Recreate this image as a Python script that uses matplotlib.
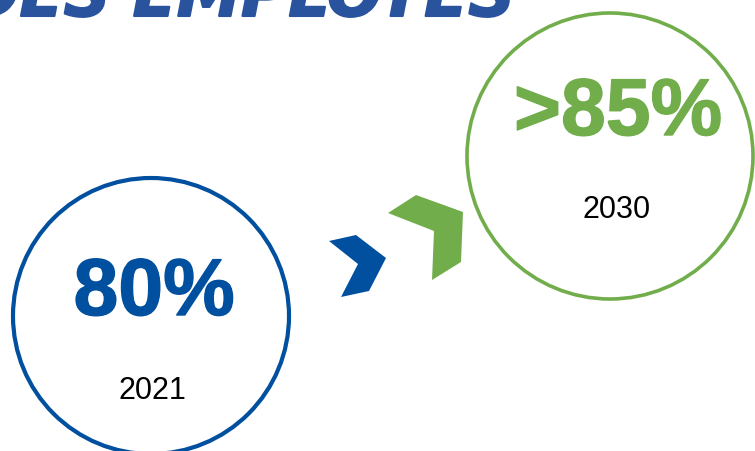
import matplotlib
matplotlib.use('Agg')
import matplotlib.pyplot as plt
import matplotlib.patheffects as pe
from matplotlib.patches import Circle, Polygon

# data
values = ['80%', '>85%']
years = ['2021', '2030']
colors = ['#00509f', '#72ad4c']
title = 'DES EMPLOYÉS'

W, H = 755, 452
fig = plt.figure(figsize=(W / 100, H / 100), dpi=100)
ax = fig.add_axes([0, 0, 1, 1])
ax.set_xlim(0, W)
ax.set_ylim(H, 0)
ax.axis('off')

# circles (center x, center y, radius, line width)
circles = [(151, 317, 138, 3.0), (610, 157, 143, 2.6)]
val_pos = [(154, 316), (618, 136)]
year_pos = [(152, 399), (617, 218)]

for i in range(2):
    cx, cy, r, lw = circles[i]
    ax.add_patch(Circle((cx, cy), r, fill=False, ec=colors[i], lw=lw))
    ax.text(val_pos[i][0], val_pos[i][1], values[i], color=colors[i],
            fontsize=58, fontweight='bold', family='Liberation Sans',
            ha='center', va='baseline',
            path_effects=[pe.withStroke(linewidth=1.0, foreground=colors[i])])
    ax.text(year_pos[i][0], year_pos[i][1], years[i], color='black',
            fontsize=22, family='Liberation Sans', ha='center', va='baseline')

# chevrons
blue_chev = [(329, 242), (356, 236), (386, 259), (369, 292), (341, 298), (358, 265)]
green_chev = [(388, 214), (416, 196), (463, 213), (461, 263), (432, 281), (434, 232)]
ax.add_patch(Polygon(blue_chev, closed=True, fc=colors[0], ec='none'))
ax.add_patch(Polygon(green_chev, closed=True, fc=colors[1], ec='none'))

# title, mostly cut off at the top
ax.text(515, 17, title, color='#2a539e', fontsize=46.5, fontweight='bold',
        fontstyle='italic', family='DejaVu Sans', ha='right', va='baseline',
        path_effects=[pe.withStroke(linewidth=1.5, foreground='#2a539e')])

fig.savefig('out.png', dpi=100)
